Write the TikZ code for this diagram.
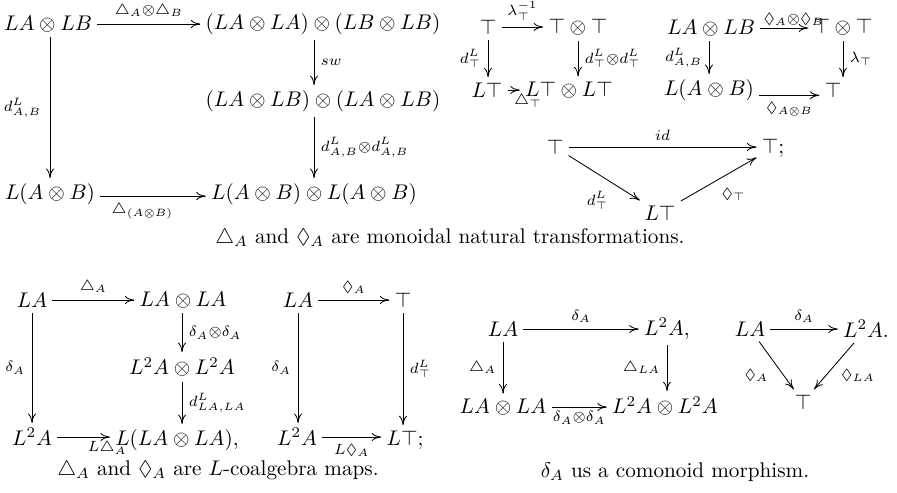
\documentclass[tikz,border=0pt]{standalone}
\usepackage{amsmath,amssymb}
\usetikzlibrary{arrows.meta}
\begin{document}
\begin{tikzpicture}[x=0.4717pt,y=-0.4717pt,
  ob/.style={inner sep=2.5pt,outer sep=0pt},
  ar/.style={draw,line width=0.4pt,-{To[length=4.5pt,width=3.8pt]}},
  lb/.style={inner sep=3pt,execute at begin node={$\scriptstyle},execute at end node={$}},
  captext/.style={anchor=base,inner sep=0pt}]
\useasboundingbox (0,0) rectangle (897,492);
% ---------- diagram 1
\node[ob] (a1) at (48,24) {$LA\otimes LB$};
\node[ob] (a2) at (323,24) {$(LA\otimes LA)\otimes(LB\otimes LB)$};
\node[ob] (a3) at (323,101) {$(LA\otimes LB)\otimes(LA\otimes LB)$};
\node[ob] (a4) at (50,194) {$L(A\otimes B)$};
\node[ob] (a5) at (314,194) {$L(A\otimes B)\otimes L(A\otimes B)$};
\draw[ar] (a1.east) -- (a1.east -| a2.west) node[lb,midway,above]{\triangle_A\otimes\triangle_B};
\draw[ar] (a1.south -| a4) -- (a4.north) node[lb,midway,left,inner sep=4pt]{d^L_{A,B}};
\draw[ar] (a2.south -| a5) -- (a3.north -| a5) node[lb,midway,right]{sw};
\draw[ar] (a3.south -| a5) -- (a5.north) node[lb,midway,right]{d^L_{A,B}\otimes d^L_{A,B}};
\draw[ar] ([yshift=-1pt]a4.east) -- ([yshift=-1pt]a4.east -| a5.west) node[lb,pos=0.4,below]{\triangle_{(A\otimes B)}};
% ---------- diagram 2
\node[ob] (b1) at (488,27) {$\top$};
\node[ob] (b2) at (578,27) {$\top\otimes\top$};
\node[ob] (b3) at (487,90) {$L\top$};
\node[ob] (b4) at (569,90) {$L\top\otimes L\top$};
\draw[ar] (b1.east) -- (b1.east -| b2.west) node[lb,midway,above]{\lambda^{-1}_\top};
\draw[ar] (b1.south) -- (b1.south |- b3.north) node[lb,midway,left]{d^L_\top};
\draw[ar] (b2.south) -- (b2.south |- b4.north) node[lb,midway,right]{d^L_\top\otimes d^L_\top};
\draw[ar] (b3.east) -- (b3.east -| b4.west) node[lb,pos=0.8,below,inner sep=2pt,xshift=5pt]{\triangle_\top};
% ---------- diagram 3
\node[ob] (c1) at (711,28) {$LA\otimes LB$};
\node[ob] (c2) at (843,27) {$\top\otimes\top$};
\node[ob] (c3) at (709,90) {$L(A\otimes B)$};
\node[ob] (c4) at (833,90) {$\top$};
\draw[ar] (c1.east) -- (c1.east -| c2.west) node[lb,pos=0.7,above,inner sep=1pt]{\Diamond_A\otimes\Diamond_B};
\draw[ar] (c1.south -| c3) -- (c3.north) node[lb,midway,left]{d^L_{A,B}};
\draw[ar] (c2.south) -- (c2.south |- c4.north) node[lb,midway,right]{\lambda_\top};
\draw[ar] ([yshift=-2.5pt]c3.east) -- ([yshift=-2.5pt]c3.east -| c4.west) node[lb,midway,below]{\Diamond_{A\otimes B}};
% ---------- triangle
\node[ob] (t1) at (555,147) {$\top$};
\node[ob] (t2) at (773,148) {$\top;$};
\node[ob] (t3) at (660,213) {$L\top$};
\draw[ar] (t1.east) -- (t1.east -| t2.west) node[lb,midway,above]{id};
\draw[ar] (t1) -- (t3) node[lb,pos=0.65,below left]{d^L_\top};
\draw[ar] (t3) -- (t2) node[lb,pos=0.45,below right]{\Diamond_\top};
\node[captext] (k1) at (450,243) {$\triangle_A$ and $\Diamond_A$ are monoidal natural transformations.};
% ---------- diagram 4
\node[ob] (d1) at (32,300) {$LA$};
\node[ob] (d2) at (183,300) {$LA\otimes LA$};
\node[ob] (d3) at (182,367) {$L^2A\otimes L^2A$};
\node[ob] (d4) at (32,437) {$L^2A$};
\node[ob] (d5) at (177,440) {$L(LA\otimes LA),$};
\draw[ar] (d1.east) -- (d1.east -| d2.west) node[lb,midway,above]{\triangle_A};
\draw[ar] (d1.south) -- (d1.south |- d4.north) node[lb,midway,left]{\delta_A};
\draw[ar] (d2.south -| d3) -- (d3.north) node[lb,midway,right]{\delta_A\otimes\delta_A};
\draw[ar] (d3.south) -- (d3.south |- d5.north) node[lb,midway,right]{d^L_{LA,LA}};
\draw[ar] (d4.east) -- (d4.east -| d5.west) node[lb,pos=0.95,below,inner sep=2pt]{L\triangle_A};
% ---------- diagram 5
\node[ob] (e1) at (298,300) {$LA$};
\node[ob] (e2) at (403,300) {$\top$};
\node[ob] (e3) at (297,437) {$L^2A$};
\node[ob] (e4) at (405,440) {$L\top;$};
\draw[ar] (e1.east) -- (e1.east -| e2.west) node[lb,midway,above]{\Diamond_A};
\draw[ar] (e1.south) -- (e1.south |- e3.north) node[lb,midway,left]{\delta_A};
\draw[ar] (e2.south) -- (e2.south |- e4.north) node[lb,midway,right]{d^L_\top};
\draw[ar] (e3.east) -- (e3.east -| e4.west) node[lb,midway,below]{L\Diamond_A};
\node[captext] (k2) at (218,475) {$\triangle_A$ and $\Diamond_A$ are $L$-coalgebra maps.};
% ---------- diagram 6
\node[ob] (f1) at (503,329) {$LA$};
\node[ob] (f2) at (667,329) {$L^2A,$};
\node[ob] (f3) at (503,407) {$LA\otimes LA$};
\node[ob] (f4) at (665,406) {$L^2A\otimes L^2A$};
\draw[ar] (f1.east) -- (f1.east -| f2.west) node[lb,midway,above]{\delta_A};
\draw[ar] (f1.south) -- (f1.south |- f3.north) node[lb,midway,left]{\triangle_A};
\draw[ar] (f2.south) -- (f2.south |- f4.north) node[lb,midway,left]{\triangle_{LA}};
\draw[ar] (f3.east) -- (f3.east -| f4.west) node[lb,midway,below,inner sep=2pt]{\delta_A\otimes\delta_A};
% ---------- diagram 7
\node[ob] (g1) at (750,329) {$LA$};
\node[ob] (g2) at (866,329) {$L^2A.$};
\node[ob] (g3) at (803,402) {$\top$};
\draw[ar] (g1.east) -- (g1.east -| g2.west) node[lb,midway,above]{\delta_A};
\draw[ar] (g1) -- (g3) node[lb,pos=0.7,left,xshift=-4pt]{\Diamond_A};
\draw[ar] (g2) -- (g3) node[lb,pos=0.7,right,xshift=4pt]{\Diamond_{LA}};
\node[captext] (k3) at (675,477) {$\delta_A$ us a comonoid morphism.};
\end{tikzpicture}
\end{document}
